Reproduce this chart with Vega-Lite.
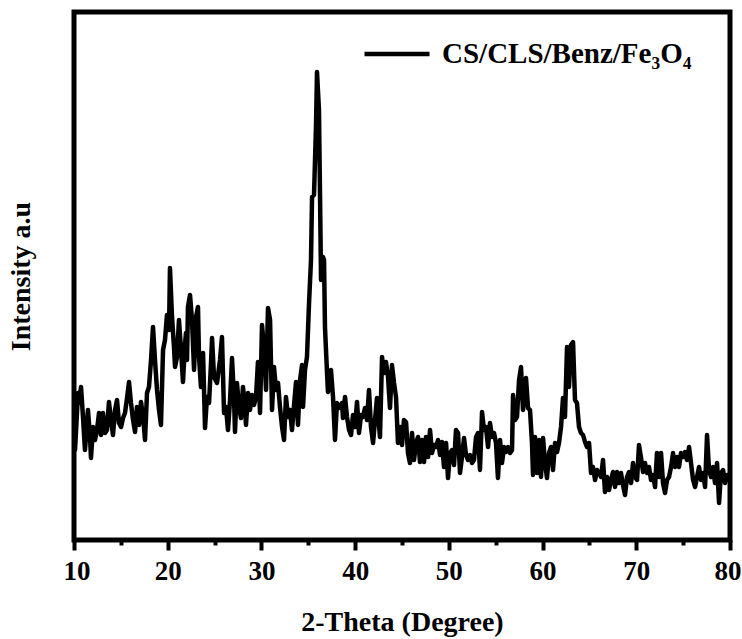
{
  "$schema": "https://vega.github.io/schema/vega-lite/v6.json",
  "width": 656,
  "height": 528,
  "autosize": {"type": "none"},
  "padding": {"left": 74, "top": 12, "right": 12, "bottom": 99},
  "background": "white",
  "config": {
    "view": {"stroke": "black", "strokeWidth": 5},
    "font": "Liberation Serif"
  },
  "data": {"values": [
    {"t":10.11,"i":90},{"t":10.43,"i":147},{"t":10.53,"i":137},{"t":10.75,"i":153},{"t":10.96,"i":123},{"t":11.17,"i":90},{"t":11.39,"i":117},{"t":11.49,"i":130},{"t":11.71,"i":103},{"t":11.81,"i":82},
    {"t":12.03,"i":113},{"t":12.24,"i":100},{"t":12.45,"i":110},{"t":12.67,"i":127},{"t":12.88,"i":105},{"t":13.09,"i":127},{"t":13.31,"i":107},{"t":13.52,"i":110},{"t":13.73,"i":138},{"t":13.95,"i":120},
    {"t":14.16,"i":105},{"t":14.38,"i":130},{"t":14.59,"i":140},{"t":14.80,"i":117},{"t":15.02,"i":113},{"t":15.23,"i":122},{"t":15.44,"i":127},{"t":15.66,"i":142},{"t":15.87,"i":158},{"t":16.08,"i":137},
    {"t":16.30,"i":120},{"t":16.51,"i":108},{"t":16.72,"i":133},{"t":16.94,"i":115},{"t":17.15,"i":138},{"t":17.36,"i":125},{"t":17.58,"i":100},{"t":17.79,"i":147},{"t":18.00,"i":153},{"t":18.22,"i":180},
    {"t":18.43,"i":213},{"t":18.64,"i":180},{"t":18.86,"i":150},{"t":19.07,"i":130},{"t":19.28,"i":115},{"t":19.50,"i":190},{"t":19.71,"i":200},{"t":19.92,"i":225},{"t":20.14,"i":210},{"t":20.24,"i":272},
    {"t":20.46,"i":223},{"t":20.67,"i":193},{"t":20.78,"i":173},{"t":20.99,"i":183},{"t":21.20,"i":220},{"t":21.42,"i":190},{"t":21.63,"i":158},{"t":21.84,"i":195},{"t":21.95,"i":207},{"t":22.06,"i":180},
    {"t":22.16,"i":233},{"t":22.38,"i":245},{"t":22.59,"i":220},{"t":22.81,"i":170},{"t":23.02,"i":223},{"t":23.23,"i":233},{"t":23.34,"i":183},{"t":23.55,"i":153},{"t":23.77,"i":187},{"t":23.98,"i":112},
    {"t":24.19,"i":143},{"t":24.41,"i":137},{"t":24.62,"i":177},{"t":24.73,"i":202},{"t":24.94,"i":163},{"t":25.26,"i":157},{"t":25.58,"i":180},{"t":25.79,"i":203},{"t":26.01,"i":127},{"t":26.22,"i":133},
    {"t":26.43,"i":110},{"t":26.65,"i":140},{"t":26.86,"i":182},{"t":27.07,"i":143},{"t":27.18,"i":108},{"t":27.39,"i":157},{"t":27.61,"i":133},{"t":27.82,"i":122},{"t":28.03,"i":153},{"t":28.25,"i":133},
    {"t":28.35,"i":115},{"t":28.57,"i":147},{"t":28.78,"i":130},{"t":28.99,"i":145},{"t":29.21,"i":135},{"t":29.42,"i":143},{"t":29.63,"i":178},{"t":29.85,"i":127},{"t":30.06,"i":215},{"t":30.27,"i":193},
    {"t":30.49,"i":150},{"t":30.70,"i":232},{"t":30.92,"i":220},{"t":31.13,"i":130},{"t":31.34,"i":173},{"t":31.56,"i":150},{"t":31.77,"i":157},{"t":31.98,"i":133},{"t":32.20,"i":113},{"t":32.41,"i":100},
    {"t":32.62,"i":143},{"t":32.84,"i":123},{"t":33.05,"i":130},{"t":33.26,"i":110},{"t":33.69,"i":158},{"t":33.90,"i":115},{"t":34.12,"i":160},{"t":34.33,"i":175},{"t":34.44,"i":133},{"t":34.65,"i":170},
    {"t":34.86,"i":183},{"t":35.08,"i":237},{"t":35.29,"i":280},{"t":35.40,"i":343},{"t":35.61,"i":345},{"t":35.82,"i":413},{"t":35.93,"i":468},{"t":36.14,"i":430},{"t":36.25,"i":347},{"t":36.36,"i":260},
    {"t":36.57,"i":283},{"t":36.68,"i":280},{"t":36.78,"i":213},{"t":37.00,"i":167},{"t":37.10,"i":148},{"t":37.42,"i":170},{"t":37.64,"i":143},{"t":37.85,"i":100},{"t":38.06,"i":137},{"t":38.28,"i":132},
    {"t":38.60,"i":137},{"t":38.70,"i":122},{"t":38.92,"i":143},{"t":39.13,"i":123},{"t":39.35,"i":110},{"t":39.56,"i":105},{"t":39.77,"i":125},{"t":39.99,"i":113},{"t":40.20,"i":138},{"t":40.41,"i":107},
    {"t":40.63,"i":125},{"t":40.84,"i":123},{"t":41.05,"i":132},{"t":41.27,"i":120},{"t":41.48,"i":150},{"t":41.69,"i":113},{"t":41.91,"i":97},{"t":42.12,"i":120},{"t":42.33,"i":142},{"t":42.65,"i":103},
    {"t":42.87,"i":183},{"t":43.08,"i":167},{"t":43.29,"i":178},{"t":43.51,"i":163},{"t":43.72,"i":132},{"t":43.93,"i":175},{"t":44.15,"i":157},{"t":44.36,"i":143},{"t":44.57,"i":97},{"t":44.79,"i":113},
    {"t":45.00,"i":95},{"t":45.21,"i":120},{"t":45.43,"i":118},{"t":45.64,"i":87},{"t":45.85,"i":77},{"t":46.07,"i":107},{"t":46.28,"i":80},{"t":46.50,"i":97},{"t":46.71,"i":103},{"t":46.92,"i":78},
    {"t":47.14,"i":100},{"t":47.35,"i":78},{"t":47.56,"i":103},{"t":47.78,"i":83},{"t":47.99,"i":110},{"t":48.20,"i":87},{"t":48.42,"i":95},{"t":48.63,"i":93},{"t":48.84,"i":100},{"t":49.06,"i":85},
    {"t":49.27,"i":98},{"t":49.48,"i":73},{"t":49.70,"i":97},{"t":49.91,"i":62},{"t":50.12,"i":87},{"t":50.34,"i":90},{"t":50.55,"i":75},{"t":50.76,"i":110},{"t":50.98,"i":107},{"t":51.19,"i":67},
    {"t":51.40,"i":83},{"t":51.62,"i":102},{"t":51.83,"i":85},{"t":52.04,"i":80},{"t":52.26,"i":85},{"t":52.47,"i":77},{"t":52.68,"i":80},{"t":52.90,"i":103},{"t":53.11,"i":107},{"t":53.32,"i":70},
    {"t":53.54,"i":128},{"t":53.75,"i":110},{"t":53.96,"i":113},{"t":54.18,"i":93},{"t":54.39,"i":117},{"t":54.60,"i":103},{"t":54.82,"i":107},{"t":55.03,"i":97},{"t":55.24,"i":62},{"t":55.46,"i":100},
    {"t":55.67,"i":77},{"t":55.89,"i":93},{"t":56.10,"i":88},{"t":56.31,"i":93},{"t":56.53,"i":87},{"t":56.74,"i":90},{"t":56.85,"i":145},{"t":57.06,"i":120},{"t":57.27,"i":123},{"t":57.49,"i":160},
    {"t":57.70,"i":173},{"t":57.91,"i":130},{"t":58.13,"i":150},{"t":58.23,"i":162},{"t":58.45,"i":132},{"t":58.66,"i":130},{"t":58.87,"i":97},{"t":58.98,"i":65},{"t":59.19,"i":103},{"t":59.41,"i":67},
    {"t":59.62,"i":100},{"t":59.83,"i":63},{"t":60.05,"i":102},{"t":60.26,"i":77},{"t":60.47,"i":62},{"t":60.69,"i":87},{"t":60.90,"i":93},{"t":61.11,"i":70},{"t":61.33,"i":97},{"t":61.54,"i":88},
    {"t":61.75,"i":97},{"t":61.97,"i":113},{"t":62.18,"i":142},{"t":62.39,"i":123},{"t":62.61,"i":193},{"t":62.82,"i":153},{"t":63.03,"i":195},{"t":63.25,"i":198},{"t":63.46,"i":140},{"t":63.67,"i":137},
    {"t":63.89,"i":113},{"t":64.10,"i":107},{"t":64.32,"i":105},{"t":64.53,"i":98},{"t":64.74,"i":93},{"t":64.96,"i":97},{"t":65.17,"i":67},{"t":65.38,"i":73},{"t":65.60,"i":60},{"t":65.81,"i":70},
    {"t":66.02,"i":67},{"t":66.24,"i":63},{"t":66.45,"i":80},{"t":66.66,"i":48},{"t":66.88,"i":63},{"t":67.09,"i":50},{"t":67.30,"i":60},{"t":67.52,"i":68},{"t":67.73,"i":53},{"t":67.94,"i":68},
    {"t":68.16,"i":57},{"t":68.37,"i":67},{"t":68.58,"i":55},{"t":68.80,"i":45},{"t":69.01,"i":63},{"t":69.22,"i":68},{"t":69.44,"i":57},{"t":69.65,"i":77},{"t":69.87,"i":63},{"t":70.08,"i":60},
    {"t":70.29,"i":95},{"t":70.51,"i":82},{"t":70.72,"i":68},{"t":70.93,"i":77},{"t":71.15,"i":67},{"t":71.36,"i":73},{"t":71.57,"i":60},{"t":71.79,"i":65},{"t":72.00,"i":53},{"t":72.21,"i":87},
    {"t":72.43,"i":63},{"t":72.64,"i":87},{"t":72.85,"i":57},{"t":73.07,"i":47},{"t":73.28,"i":60},{"t":73.49,"i":63},{"t":73.71,"i":73},{"t":73.92,"i":87},{"t":74.13,"i":73},{"t":74.35,"i":83},
    {"t":74.56,"i":73},{"t":74.77,"i":87},{"t":74.99,"i":83},{"t":75.20,"i":88},{"t":75.41,"i":80},{"t":75.63,"i":93},{"t":75.84,"i":77},{"t":76.06,"i":60},{"t":76.27,"i":53},{"t":76.48,"i":63},
    {"t":76.70,"i":73},{"t":76.91,"i":60},{"t":77.12,"i":67},{"t":77.34,"i":53},{"t":77.55,"i":105},{"t":77.76,"i":70},{"t":77.98,"i":63},{"t":78.19,"i":73},{"t":78.40,"i":57},{"t":78.62,"i":77},
    {"t":78.83,"i":37},{"t":79.04,"i":67},{"t":79.26,"i":70},{"t":79.47,"i":57},{"t":79.68,"i":65},{"t":79.90,"i":60}
  ]},
  "mark": {"type": "line", "strokeWidth": 4.5, "strokeJoin": "round", "strokeCap": "round", "clip": true},
  "encoding": {
    "x": {
      "field": "t", "type": "quantitative",
      "scale": {"domain": [10, 80], "nice": false, "zero": false},
      "axis": {
        "title": "2-Theta (Degree)",
        "values": [10, 15, 20, 25, 30, 35, 40, 45, 50, 55, 60, 65, 70, 75, 80],
        "labelExpr": "datum.value % 10 === 0 ? datum.label : ''",
        "labelOverlap": false,
        "labelFlush": true,
        "labelFlushOffset": 11,
        "domain": false,
        "grid": false,
        "tickColor": "black",
        "tickWidth": 4,
        "tickSize": {"condition": {"test": "datum.value % 10 === 0", "value": 10}, "value": 5},
        "labelFont": "Liberation Serif",
        "labelFontWeight": "bold",
        "labelFontSize": 27,
        "labelColor": "black",
        "labelPadding": 8,
        "titleFont": "Liberation Serif",
        "titleFontWeight": "bold",
        "titleFontSize": 28,
        "titleColor": "black",
        "titlePadding": 24
      }
    },
    "y": {
      "field": "i", "type": "quantitative",
      "scale": {"domain": [0, 528], "nice": false, "zero": false},
      "axis": {
        "title": "Intensity a.u",
        "labels": false,
        "ticks": false,
        "domain": false,
        "grid": false,
        "titleFont": "Liberation Serif",
        "titleFontWeight": "bold",
        "titleFontSize": 28,
        "titleColor": "black",
        "titlePadding": 39
      }
    },
    "color": {
      "datum": "CS/CLS/Benz/Fe₃O₄",
      "scale": {"range": ["black"]},
      "legend": {
        "title": null,
        "orient": "none",
        "legendX": 288,
        "legendY": 7,
        "padding": 0,
        "symbolType": "stroke",
        "symbolSize": 4225,
        "symbolStrokeWidth": 4.5,
        "symbolStrokeColor": "black",
        "labelFont": "Liberation Serif",
        "labelFontWeight": "bold",
        "labelFontSize": 29,
        "labelColor": "black",
        "labelOffset": 10,
        "labelLimit": 400
      }
    }
  }
}
